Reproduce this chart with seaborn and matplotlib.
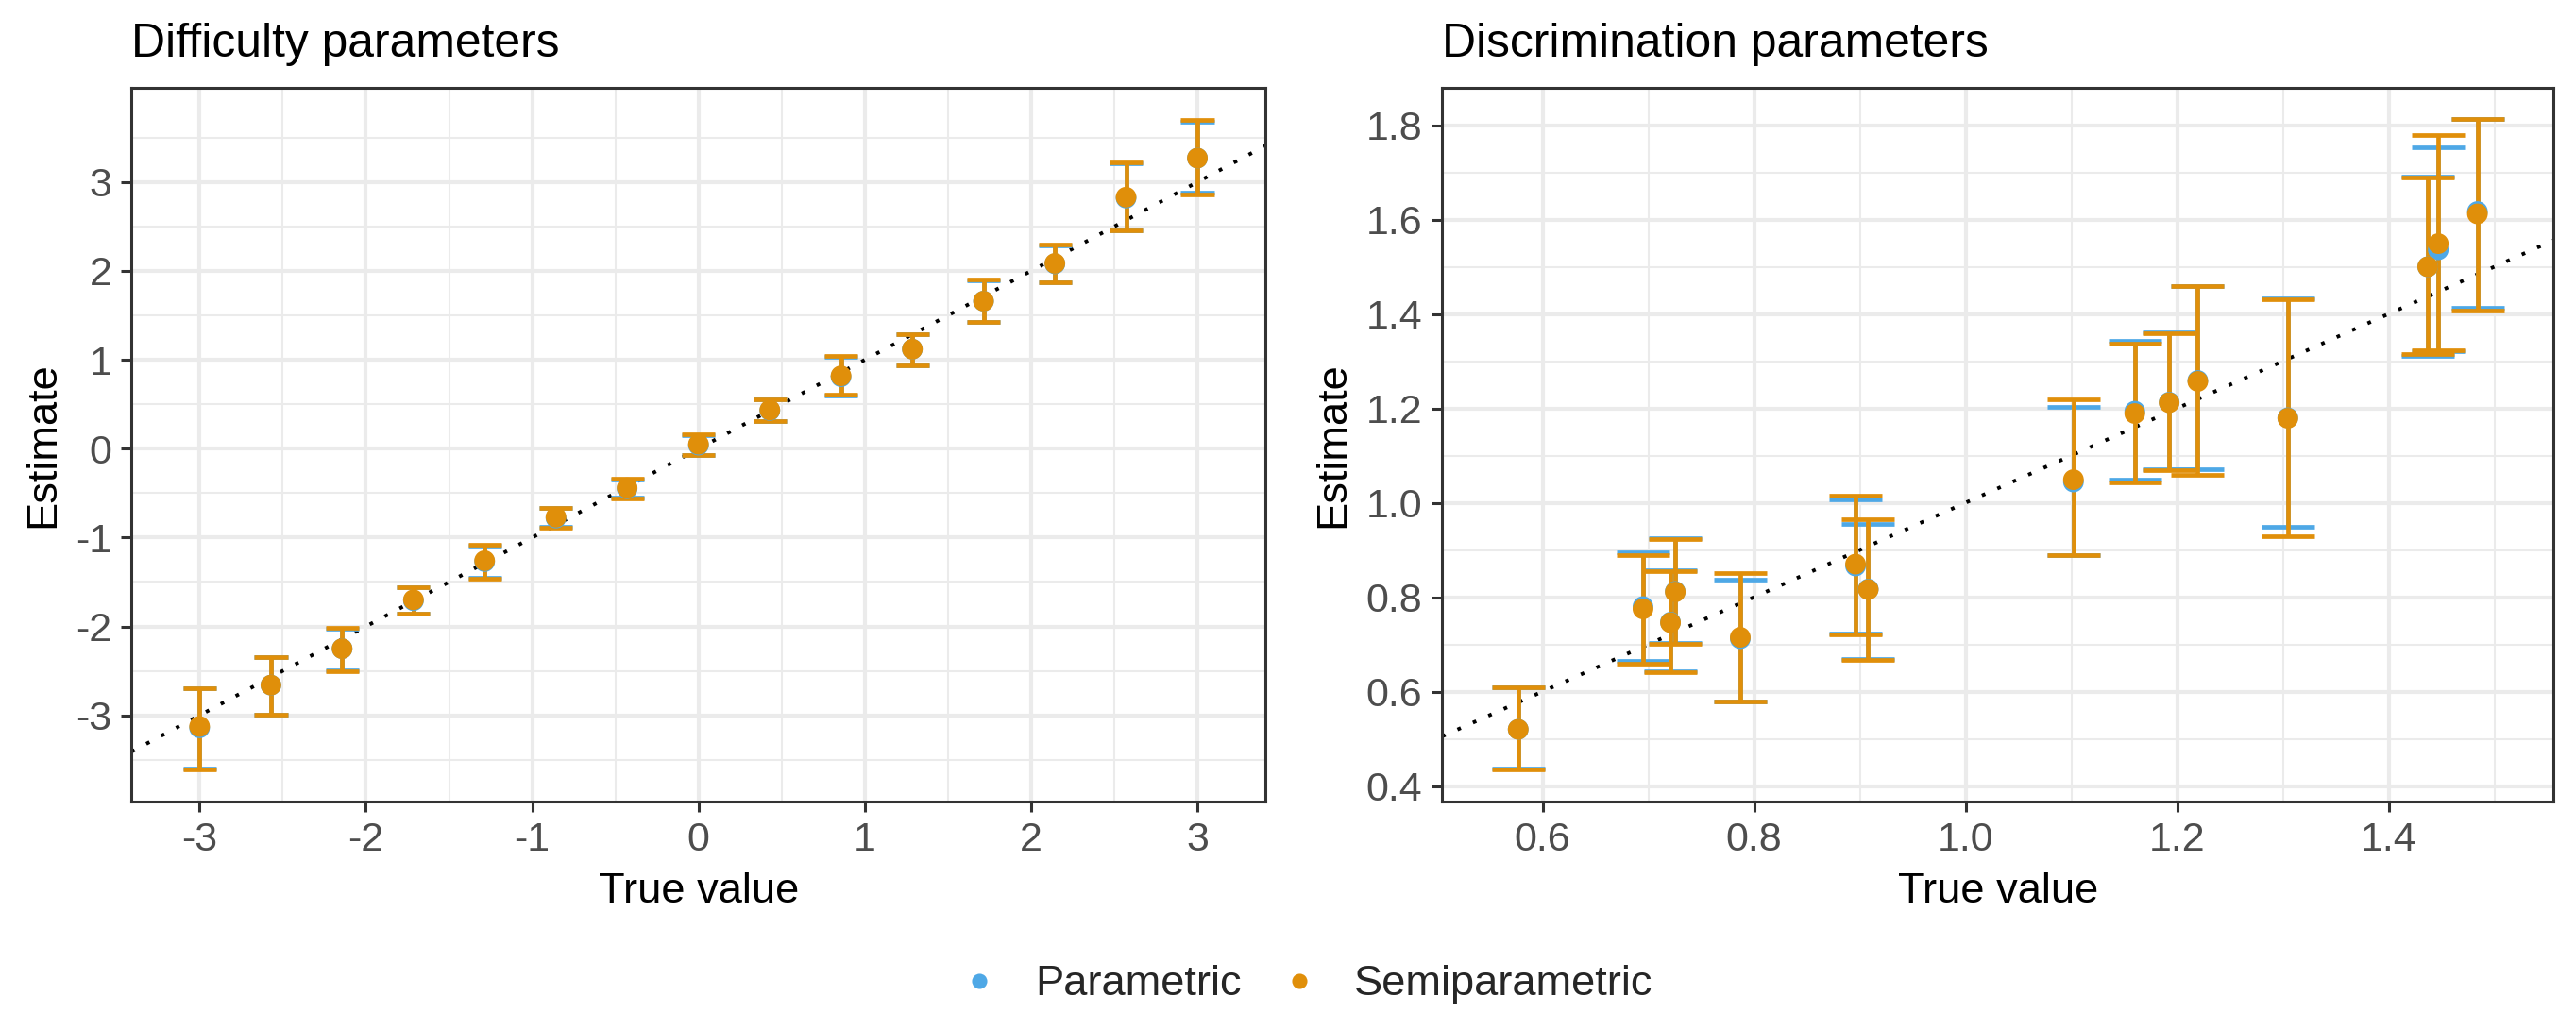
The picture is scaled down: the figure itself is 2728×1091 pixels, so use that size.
import numpy as np
import pandas as pd
import matplotlib
matplotlib.use('Agg')
import matplotlib.pyplot as plt
from matplotlib.lines import Line2D
import seaborn as sns

# Difficulty parameters (left panel)
diff_true = [-3.0, -2.571, -2.143, -1.714, -1.286, -0.857, -0.429, 0.0,
             0.429, 0.857, 1.286, 1.714, 2.143, 2.571, 3.0]
diff_par_est = [-3.14, -2.66, -2.25, -1.71, -1.27, -0.78, -0.45, 0.04,
                0.43, 0.81, 1.12, 1.66, 2.08, 2.82, 3.27]
diff_par_lo = [-3.60, -2.99, -2.49, -1.86, -1.45, -0.88, -0.55, -0.07,
               0.31, 0.60, 0.94, 1.43, 1.87, 2.46, 2.88]
diff_par_hi = [-2.70, -2.34, -2.03, -1.56, -1.09, -0.67, -0.35, 0.15,
               0.55, 1.03, 1.29, 1.89, 2.29, 3.21, 3.68]
diff_semi_est = [-3.125, -2.66, -2.25, -1.70, -1.26, -0.77, -0.44, 0.05,
                 0.435, 0.82, 1.12, 1.66, 2.085, 2.83, 3.27]
diff_semi_lo = [-3.61, -2.99, -2.50, -1.86, -1.46, -0.89, -0.56, -0.07,
                0.31, 0.61, 0.94, 1.43, 1.87, 2.46, 2.86]
diff_semi_hi = [-2.69, -2.34, -2.02, -1.555, -1.08, -0.665, -0.34, 0.16,
                0.56, 1.04, 1.29, 1.90, 2.30, 3.22, 3.70]

# Discrimination parameters (right panel)
disc_true = [0.577, 0.695, 0.721, 0.7255, 0.787, 0.896, 0.908, 1.102,
             1.160, 1.1925, 1.2196, 1.3047, 1.437, 1.447, 1.484]
disc_par_est = [0.520, 0.780, 0.747, 0.812, 0.712, 0.866, 0.817, 1.044,
                1.194, 1.213, 1.259, 1.180, 1.500, 1.536, 1.617]
disc_par_lo = [0.437, 0.666, 0.643, 0.703, 0.580, 0.723, 0.669, 0.889,
               1.050, 1.071, 1.071, 0.950, 1.311, 1.322, 1.413]
disc_par_hi = [0.610, 0.896, 0.857, 0.926, 0.838, 1.008, 0.956, 1.204,
               1.343, 1.362, 1.460, 1.434, 1.691, 1.753, 1.813]
disc_semi_est = [0.520, 0.775, 0.746, 0.811, 0.715, 0.870, 0.816, 1.049,
                 1.189, 1.212, 1.257, 1.179, 1.500, 1.549, 1.612]
disc_semi_lo = [0.435, 0.659, 0.641, 0.702, 0.579, 0.722, 0.668, 0.890,
                1.043, 1.070, 1.059, 0.929, 1.316, 1.324, 1.408]
disc_semi_hi = [0.610, 0.890, 0.855, 0.924, 0.852, 1.015, 0.966, 1.219,
                1.338, 1.359, 1.459, 1.432, 1.689, 1.780, 1.813]

methods = ['Parametric', 'Semiparametric']
colors = {'Parametric': '#4EA8E6', 'Semiparametric': '#E08F0A'}


def build_frame(true, par, semi):
    # Stack both methods into one long data frame
    frames = []
    for name, (est, lo, hi) in zip(methods, [par, semi]):
        frames.append(pd.DataFrame({'true': true, 'est': est, 'lo': lo,
                                    'hi': hi, 'method': name}))
    return pd.concat(frames, ignore_index=True)


df_diff = build_frame(diff_true,
                      (diff_par_est, diff_par_lo, diff_par_hi),
                      (diff_semi_est, diff_semi_lo, diff_semi_hi))
df_disc = build_frame(disc_true,
                      (disc_par_est, disc_par_lo, disc_par_hi),
                      (disc_semi_est, disc_semi_lo, disc_semi_hi))

sns.set_theme(style='white')
plt.rcParams['font.family'] = ['Liberation Sans', 'DejaVu Sans']
plt.rcParams['axes.unicode_minus'] = False

fig = plt.figure(figsize=(13.64, 5.455), dpi=200)
ax1 = fig.add_axes([0.0510, 0.2218, 0.4403, 0.6929])
ax2 = fig.add_axes([0.5598, 0.2218, 0.4315, 0.6929])


def draw_panel(ax, df, cap_half, xlim, ylim, xmaj, xmin_, ymaj, ymin_,
               title, fmt):
    ax.set_xlim(*xlim)
    ax.set_ylim(*ylim)
    ax.set_xticks(xmaj)
    ax.set_xticks(xmin_, minor=True)
    ax.set_yticks(ymaj)
    ax.set_yticks(ymin_, minor=True)
    ax.grid(which='major', color='#EBEBEB', linewidth=1.5)
    ax.grid(which='minor', color='#EBEBEB', linewidth=0.75)
    ax.set_axisbelow(True)

    # Identity reference line
    ax.axline((0, 0), slope=1, color='black', linewidth=1.4,
              linestyle=(0, (1, 3.6)), zorder=1)

    # Error bars
    for m in methods:
        sub = df[df['method'] == m]
        ax.vlines(sub['true'], sub['lo'], sub['hi'], color=colors[m],
                  linewidth=1.7, zorder=2)
        for col in ['lo', 'hi']:
            ax.hlines(sub[col], sub['true'] - cap_half,
                      sub['true'] + cap_half, color=colors[m],
                      linewidth=1.7, zorder=2, capstyle='butt')

    # Points
    sns.scatterplot(data=df, x='true', y='est', hue='method',
                    hue_order=methods, palette=colors, s=62,
                    edgecolor='none', linewidth=0, legend=False,
                    ax=ax, zorder=3)

    for side in ax.spines.values():
        side.set_color('#333333')
        side.set_linewidth(1.1)
    ax.tick_params(which='major', length=4, width=1.1, color='#333333',
                   labelsize=15.5, labelcolor='#4D4D4D', pad=3.5,
                   bottom=True, left=True)
    ax.tick_params(which='minor', length=0)
    ax.xaxis.set_major_formatter(plt.FormatStrFormatter(fmt))
    ax.yaxis.set_major_formatter(plt.FormatStrFormatter(fmt))
    ax.set_xlabel('True value', fontsize=16.3, color='black', labelpad=5)
    ax.set_ylabel('Estimate', fontsize=16.3, color='black', labelpad=5)
    ax.set_title(title, loc='left', fontsize=17.9, color='black', pad=12)


draw_panel(ax1, df_diff, 0.1, (-3.41, 3.41), (-3.97, 4.06),
           [-3, -2, -1, 0, 1, 2, 3],
           [-2.5, -1.5, -0.5, 0.5, 1.5, 2.5],
           [-3, -2, -1, 0, 1, 2, 3],
           [-3.5, -2.5, -1.5, -0.5, 0.5, 1.5, 2.5, 3.5],
           'Difficulty parameters', '%d')
draw_panel(ax2, df_disc, 0.025, (0.505, 1.556), (0.367, 1.879),
           [0.6, 0.8, 1.0, 1.2, 1.4],
           [0.7, 0.9, 1.1, 1.3, 1.5],
           [0.4, 0.6, 0.8, 1.0, 1.2, 1.4, 1.6, 1.8],
           [0.5, 0.7, 0.9, 1.1, 1.3, 1.5, 1.7],
           'Discrimination parameters', '%.1f')

# Shared legend at the bottom
handles = [Line2D([], [], marker='o', linestyle='none', markersize=5.8,
                  markerfacecolor=colors[m], markeredgewidth=0)
           for m in methods]
fig.legend(handles, methods, loc='center', bbox_to_anchor=(0.506, 0.044),
           ncol=2, frameon=False, fontsize=16.3, handletextpad=0.7,
           columnspacing=0.75, handlelength=1.2)

fig.savefig('out.png', dpi=200)
